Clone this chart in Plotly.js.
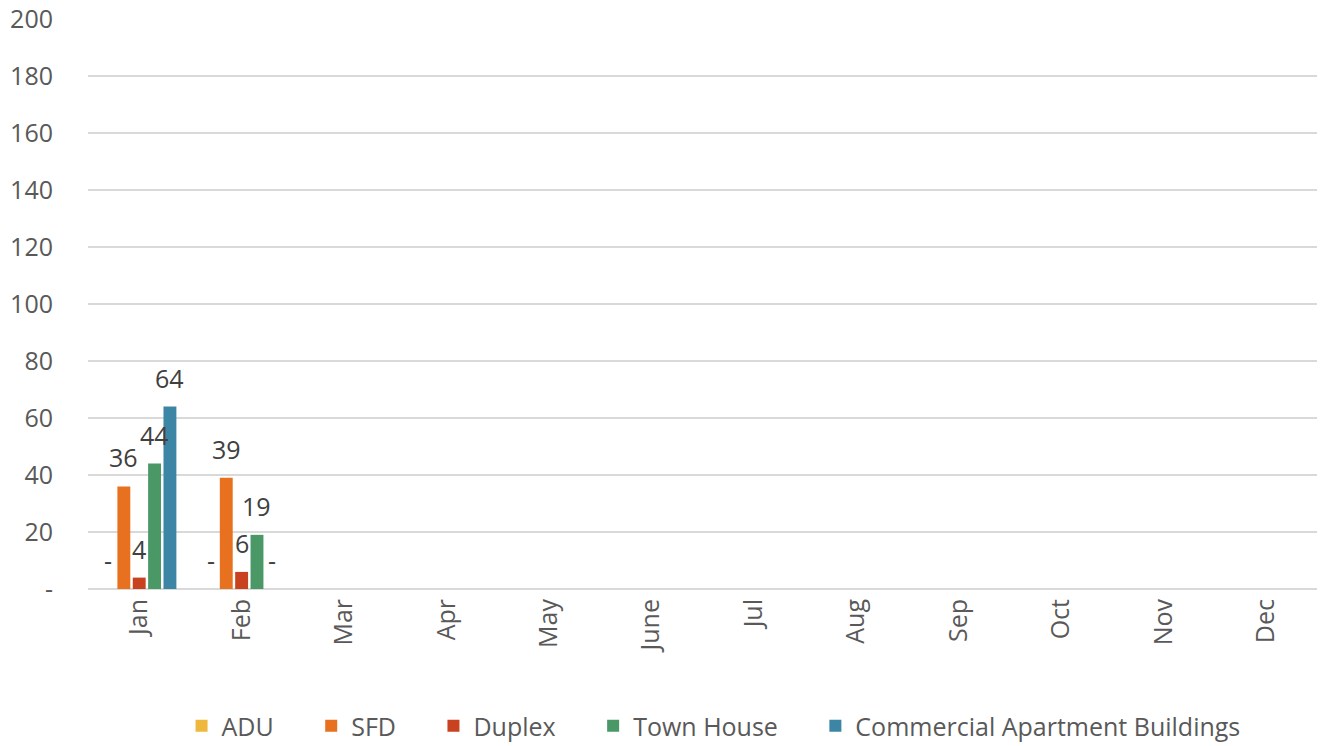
<!DOCTYPE html>
<html><head><meta charset="utf-8">
<script src="https://cdn.plot.ly/plotly-3.0.1.min.js"></script>
<style>html,body{margin:0;padding:0;background:#fff}#chart{width:1325px;height:746px}</style>
</head><body><div id="chart"></div>
<script>
const months = ["Jan","Feb","Mar","Apr","May","June","Jul","Aug","Sep","Oct","Nov","Dec"];
const seriesNames = ["ADU","SFD","Duplex","Town House","Commercial Apartment Buildings"];
const adu = [0,0,null,null,null,null,null,null,null,null,null,null];
const sfd = [36,39,null,null,null,null,null,null,null,null,null,null];
const duplex = [4,6,null,null,null,null,null,null,null,null,null,null];
const townHouse = [44,19,null,null,null,null,null,null,null,null,null,null];
const commercial = [64,0,null,null,null,null,null,null,null,null,null,null];
const colors = ["#EDB83D","#E8711F","#C8421F","#4A9866","#3D85A5"];
const yTicks = [0,20,40,60,80,100,120,140,160,180,200];
const yTickText = ["-","20","40","60","80","100","120","140","160","180","200"];

const allSeries = [adu,sfd,duplex,townHouse,commercial];
const font = "'Open Sans', 'DejaVu Sans', sans-serif";
const FS = 25;
const pad = "\u00a0".repeat(5);
const traces = allSeries.map((vals,i)=>({
  type:"bar", name: seriesNames[i] + (i < allSeries.length-1 ? pad : ""), x:months, y:vals,
  marker:{color:colors[i]}, hoverinfo:"x+y+name"
}));

// data labels
const plotW = 1325-88-8;
const catW = plotW/months.length;
const bargap = 0.25, groupgap = 0.16;
const slot = catW*(1-bargap)/allSeries.length;
const annotations = [];
allSeries.forEach((vals,i)=>{
  vals.forEach((v,j)=>{
    if(v===null) return;
    annotations.push({
      xref:"x", yref:"y", x:months[j], y:v,
      xshift:(i-(allSeries.length-1)/2)*slot,
      yshift:29, yanchor:"middle", xanchor:"center",
      text: v===0 ? "-" : String(v), showarrow:false,
      font:{family:font,size:FS,color:"#404040"}
    });
  });
});

const layout = {
  width:1325, height:746,
  margin:{l:88,r:8,t:19,b:157,autoexpand:false},
  paper_bgcolor:"#fff", plot_bgcolor:"#fff",
  barmode:"group", bargap:bargap, bargroupgap:groupgap,
  font:{family:font,size:FS,color:"#595959"},
  xaxis:{type:"category", categoryarray:months, tickangle:-90, showgrid:false, automargin:false,
    showline:false, zeroline:false, ticks:"", tickfont:{size:FS,color:"#595959",family:font},
    ticklabelstandoff:4},
  yaxis:{range:[0,200], tickvals:yTicks, ticktext:yTickText, showgrid:true, automargin:false,
    gridcolor:"#D9D9D9", gridwidth:1.5, zeroline:true, zerolinecolor:"#D9D9D9", zerolinewidth:1.5,
    showline:false, ticks:"", tickfont:{size:FS,color:"#595959",family:font}, ticklabelstandoff:34},
  showlegend:true,
  legend:{orientation:"h", x:0.509, xanchor:"center", y:-0.2, yanchor:"top",
    font:{size:FS,color:"#595959",family:font}, itemwidth:30, traceorder:"normal"},
  annotations:annotations
};
Plotly.newPlot("chart", traces, layout, {displayModeBar:false, staticPlot:true});
</script></body></html>
